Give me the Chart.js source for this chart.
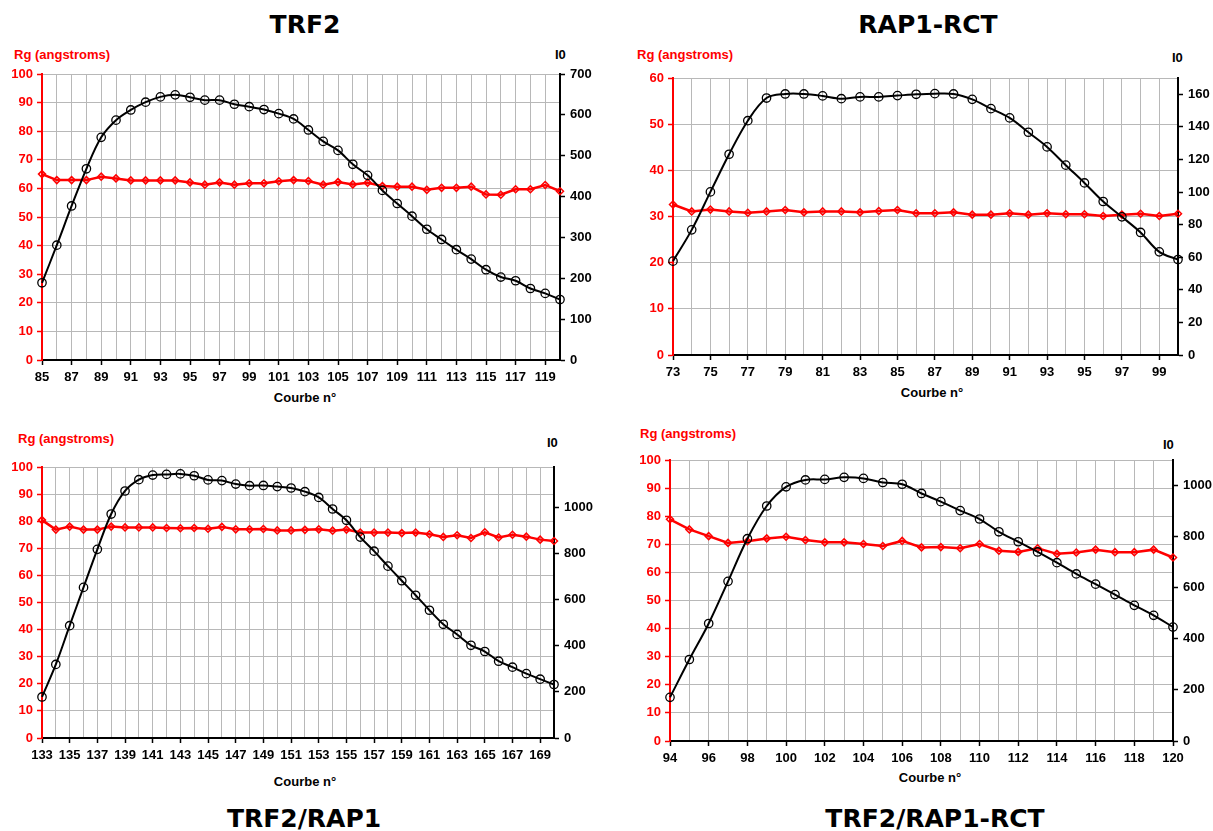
<!DOCTYPE html>
<html><head><meta charset="utf-8">
<script src="https://cdn.jsdelivr.net/npm/chart.js@4/dist/chart.umd.min.js"></script>
<style>
body{margin:0;background:#fff;width:1213px;height:831px;position:relative;overflow:hidden;font-family:"Liberation Sans",Arial,sans-serif;}
.t{position:absolute;font-family:"DejaVu Sans",Verdana,sans-serif;font-weight:bold;font-size:25px;color:#000;transform:translateX(-50%);white-space:nowrap;line-height:1}
.lab{position:absolute;font-weight:bold;font-size:13px;white-space:nowrap;line-height:1}
.c{transform:translateX(-50%)}
canvas{position:absolute}
</style></head><body>
<div class="t" style="left:305px;top:12px">TRF2</div>
<div class="t" style="left:928px;top:12px">RAP1-RCT</div>
<div class="t" style="left:304px;top:806px">TRF2/RAP1</div>
<div class="t" style="left:935px;top:806px">TRF2/RAP1-RCT</div>

<div class="lab" style="left:14px;top:48px;color:#ff0000">Rg (angstroms)</div>
<div class="lab" style="left:555px;top:48px">I0</div>
<div class="lab c" style="left:305px;top:391px">Courbe n°</div>

<div class="lab" style="left:637px;top:48px;color:#ff0000">Rg (angstroms)</div>
<div class="lab" style="left:1172px;top:51px">I0</div>
<div class="lab c" style="left:932px;top:386px">Courbe n°</div>

<div class="lab" style="left:18px;top:432px;color:#ff0000">Rg (angstroms)</div>
<div class="lab" style="left:547px;top:436px">I0</div>
<div class="lab c" style="left:305px;top:775px">Courbe n°</div>

<div class="lab" style="left:640px;top:427px;color:#ff0000">Rg (angstroms)</div>
<div class="lab" style="left:1163px;top:438px">I0</div>
<div class="lab c" style="left:930px;top:771px">Courbe n°</div>

<canvas id="c1"></canvas>
<canvas id="c2"></canvas>
<canvas id="c3"></canvas>
<canvas id="c4"></canvas>
<script>
// ---- TRF2 ----
const trf2Courbe = [85,86,87,88,89,90,91,92,93,94,95,96,97,98,99,100,101,102,103,104,105,106,107,108,109,110,111,112,113,114,115,116,117,118,119,120];
const trf2Rg = [65.0,62.9,62.9,62.9,64.1,63.5,62.8,62.8,62.8,62.8,62.1,61.3,62.1,61.3,61.8,61.8,62.5,62.9,62.6,61.3,62.2,61.4,62.0,60.8,60.6,60.6,59.5,60.2,60.2,60.6,57.9,57.8,59.7,59.7,61.2,59.0];
const trf2I0 = [189,281,377,468,545,587,612,631,644,649,643,636,636,626,620,613,603,590,563,535,513,479,452,415,383,352,320,295,270,247,221,203,194,175,163,148];
const trf2RgTicks = [0,10,20,30,40,50,60,70,80,90,100];
const trf2I0Ticks = [0,100,200,300,400,500,600,700];

// ---- RAP1-RCT ----
const rap1rctCourbe = [73,74,75,76,77,78,79,80,81,82,83,84,85,86,87,88,89,90,91,92,93,94,95,96,97,98,99,100];
const rap1rctRg = [32.6,31.1,31.5,31.1,30.8,31.1,31.4,30.9,31.1,31.1,30.9,31.2,31.4,30.7,30.7,30.9,30.4,30.4,30.7,30.4,30.7,30.5,30.5,30.1,30.4,30.6,30.1,30.6];
const rap1rctI0 = [57.6,76.8,100.1,123.2,143.8,157.7,160.2,160.2,159.0,157.3,158.4,158.4,159.2,160.0,160.4,160.2,156.9,151.2,145.5,136.7,127.7,116.5,105.6,94.2,84.8,75.2,63.3,58.6];
const rap1rctRgTicks = [0,10,20,30,40,50,60];
const rap1rctI0Ticks = [0,20,40,60,80,100,120,140,160];

// ---- TRF2/RAP1 ----
const trf2rap1Courbe = [133,134,135,136,137,138,139,140,141,142,143,144,145,146,147,148,149,150,151,152,153,154,155,156,157,158,159,160,161,162,163,164,165,166,167,168,169,170];
const trf2rap1Rg = [80.4,76.9,78.0,76.9,76.9,78.0,77.7,77.7,77.7,77.5,77.4,77.5,77.2,77.9,77.0,77.0,77.1,76.6,76.6,76.8,77.0,76.5,76.9,75.8,75.8,75.8,75.6,75.8,75.2,74.2,74.8,73.8,75.9,74.0,75.0,74.3,73.2,72.7];
const trf2rap1I0 = [178,319,487,653,818,971,1071,1120,1140,1143,1145,1137,1119,1116,1101,1094,1095,1090,1084,1068,1043,993,944,871,810,745,682,619,554,493,449,402,375,333,307,279,255,232];
const trf2rap1RgTicks = [0,10,20,30,40,50,60,70,80,90,100];
const trf2rap1I0Ticks = [0,200,400,600,800,1000];

// ---- TRF2/RAP1-RCT ----
const trf2rap1rctCourbe = [94,95,96,97,98,99,100,101,102,103,104,105,106,107,108,109,110,111,112,113,114,115,116,117,118,119,120];
const trf2rap1rctRg = [78.9,75.3,72.9,70.5,71.1,72.1,72.7,71.5,70.7,70.7,70.1,69.4,71.2,68.9,69.0,68.6,70.1,67.7,67.3,68.6,66.6,67.1,68.1,67.2,67.2,68.1,65.3];
const trf2rap1rctI0 = [171,319,460,625,792,920,995,1022,1024,1032,1028,1012,1005,969,937,902,869,819,780,740,698,654,614,573,531,492,446];
const trf2rap1rctRgTicks = [0,10,20,30,40,50,60,70,80,90,100];
const trf2rap1rctI0Ticks = [0,200,400,600,800,1000];

// axis maxima
const trf2Max = {rg:100, i0:700};
const rap1rctMax = {rg:60, i0:170};
const trf2rap1Max = {rg:100, i0:1175};
const trf2rap1rctMax = {rg:100, i0:1100};

const RED = '#ff0000';
const GRID = '#b8b8b8';
const FONT = {family:'"Liberation Sans", Arial, sans-serif', weight:'bold', size:13};
const WL = 42, WR = 45, XH = 40, PT = 14;

function pts(xs, ys){ return xs.map((x,i)=>({x:x, y:ys[i]})); }

function makeChart(id, area, xs, rg, i0, mx, rgTicks, i0Ticks){
  const [L,R,T,B] = area;
  const cv = document.getElementById(id);
  const left = L - WL, top = T - PT, w = R + WR - left, h = B + XH - top;
  cv.style.left = left+'px'; cv.style.top = top+'px';
  cv.width = w; cv.height = h; cv.style.width = w+'px'; cv.style.height = h+'px';
  const xmin = xs[0], xmax = xs[xs.length-1];
  new Chart(cv, {
    type:'line',
    data:{datasets:[
      {label:'I0', data:pts(xs,i0), yAxisID:'y1', borderColor:'#000', borderWidth:2, tension:0.35,
       pointStyle:'circle', pointRadius:4.2, pointBorderWidth:1.3, pointBorderColor:'#000', pointBackgroundColor:'rgba(0,0,0,0)', clip:false},
      {label:'Rg', data:pts(xs,rg), yAxisID:'y', borderColor:RED, borderWidth:2.5, tension:0,
       pointStyle:'rectRot', pointRadius:3.5, pointBorderWidth:1.5, pointBorderColor:RED, pointBackgroundColor:'rgba(0,0,0,0)', clip:false}
    ]},
    options:{
      responsive:false, animation:false, devicePixelRatio:1,
      layout:{padding:{top:PT,left:0,right:0,bottom:0}},
      plugins:{legend:{display:false}, tooltip:{enabled:false}},
      scales:{
        x:{type:'linear', min:xmin, max:xmax, bounds:'data',
           afterFit:s=>{s.height=XH;},
           afterBuildTicks:s=>{ s.ticks = xs.map(v=>({value:v})); },
           ticks:{autoSkip:false, maxRotation:0, color:'#000', font:FONT, padding:5,
                  callback:v=>((v-xmin)%2===0 ? String(v) : '')},
           grid:{color:GRID, lineWidth:1, tickLength:5, tickWidth:1.5,
                 tickColor:ctx=>(ctx.tick && (ctx.tick.value-xmin)%2===0 ? '#000' : 'rgba(0,0,0,0)')},
           border:{color:'#000', width:2}},
        y:{type:'linear', position:'left', min:0, max:mx.rg, bounds:'data',
           afterFit:s=>{s.width=WL;},
           afterBuildTicks:s=>{ s.ticks = rgTicks.map(v=>({value:v})); },
           ticks:{color:RED, font:FONT, padding:4, callback:v=>String(v)},
           grid:{color:GRID, lineWidth:1, tickLength:5, tickColor:RED, tickWidth:1.5},
           border:{color:RED, width:2}},
        y1:{type:'linear', position:'right', min:0, max:mx.i0, bounds:'data',
           afterFit:s=>{s.width=WR;},
           afterBuildTicks:s=>{ s.ticks = i0Ticks.map(v=>({value:v})); },
           ticks:{color:'#000', font:FONT, padding:5, callback:v=>String(v)},
           grid:{drawOnChartArea:false, drawTicks:true, tickLength:5, tickColor:'#000', tickWidth:1.5},
           border:{color:'#000', width:2}}
      }
    }
  });
}

makeChart('c1', [42,560,74,360], trf2Courbe, trf2Rg, trf2I0, trf2Max, trf2RgTicks, trf2I0Ticks);
makeChart('c2', [673,1178,78,355], rap1rctCourbe, rap1rctRg, rap1rctI0, rap1rctMax, rap1rctRgTicks, rap1rctI0Ticks);
makeChart('c3', [42,554,467,738], trf2rap1Courbe, trf2rap1Rg, trf2rap1I0, trf2rap1Max, trf2rap1RgTicks, trf2rap1I0Ticks);
makeChart('c4', [670,1173,460,741], trf2rap1rctCourbe, trf2rap1rctRg, trf2rap1rctI0, trf2rap1rctMax, trf2rap1rctRgTicks, trf2rap1rctI0Ticks);
</script>
</body></html>
